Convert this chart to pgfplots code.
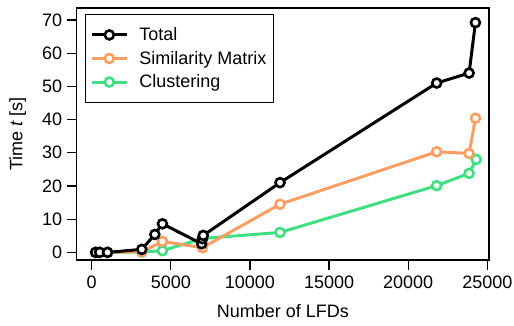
\documentclass[border=0pt]{standalone}
\usepackage{pgfplots}
\pgfplotsset{compat=1.18}
\usepackage{fontspec}
\setmainfont{Liberation Sans}
\newcommand\fs{\fontsize{18}{21}\selectfont}
\definecolor{cTot}{RGB}{0,0,0}
\definecolor{cSim}{RGB}{255,158,98}
\definecolor{cClu}{RGB}{64,224,130}
\begin{document}
\begin{tikzpicture}
\begin{axis}[
  name=ax,
  scale only axis,
  width=412.3pt, height=252pt,
  xmin=-948, xmax=25107,
  ymin=-2.3, ymax=73.6,
  xtick={0,5000,10000,15000,20000,25000},
  ytick={0,10,20,30,40,50,60,70},
  scaled x ticks=false,
  /pgf/number format/assume math mode=true,
  /pgf/number format/set thousands separator={},
  tick pos=left,
  tick align=outside,
  major tick length=10pt,
  tick style={line width=1.3pt, black},
  axis line style={line width=1.5pt},
  tick label style={font=\fs},
  xticklabel style={yshift=-2pt},
  yticklabel style={xshift=-1pt},
  label style={font=\fs},
  xlabel={Number of LFDs},
  ylabel={Time \textit{t} [s]},
  xlabel style={at={(axis description cs:0.5,0)}, anchor=center, yshift=-51pt},
  ylabel style={at={(axis description cs:0,0.5)}, anchor=center, yshift=59pt},
  every axis plot/.append style={line width=3pt, mark=*, mark size=4.5pt,
     mark options={fill=white, line width=2.6pt}},
  reverse legend,
  legend cell align=left,
  legend style={at={(0,1)}, anchor=north west, xshift=8pt, yshift=-6pt,
     draw=black, line width=1.3pt, font=\fs, row sep=5pt, column sep=9pt,
     inner xsep=5pt, inner ysep=11pt},
  legend image code/.code={\draw[mark repeat=2,mark phase=2,#1] plot coordinates {(0pt,0pt) (17.5pt,0pt) (35pt,0pt)};},
]
\addplot[color=cClu] coordinates {
(250,0) (500,0) (1000,0) (3165,0.1) (4470,0.5) (7000,4.2) (11900,6.0) (21800,20.1) (23850,23.8) (24300,28.0)};
\addlegendentry{Clustering}
\addplot[color=cSim] coordinates {
(250,0) (500,0) (1000,0) (3165,0.2) (4470,3.3) (7000,1.4) (11900,14.5) (21800,30.3) (23850,29.8) (24250,40.4)};
\addlegendentry{Similarity Matrix}
\addplot[color=cTot] coordinates {
(250,0) (500,0) (1000,0) (3165,0.9) (3990,5.4) (4470,8.6) (6950,2.6) (7000,4.1) (7050,5.1) (11900,21.0) (21800,51.0) (23850,54.0) (24250,69.2)};
\addlegendentry{Total}
\end{axis}
\pgfresetboundingbox
\path[use as bounding box] ([shift={(-76.7pt,-65pt)}]ax.south west) rectangle ([shift={(25pt,8pt)}]ax.north east);
\end{tikzpicture}
\end{document}
